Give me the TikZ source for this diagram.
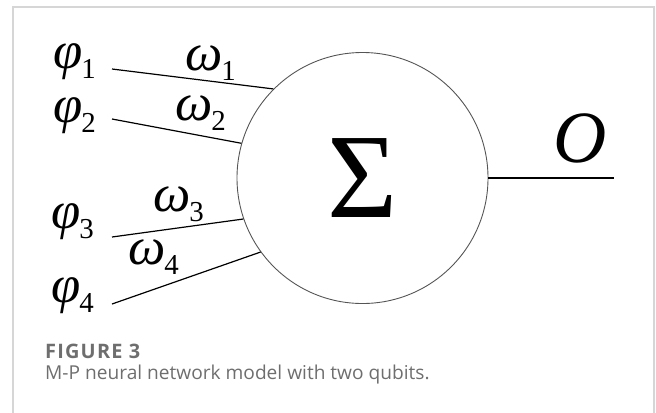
\documentclass[tikz,border=0pt]{standalone}
\usepackage{fontspec}
\setsansfont{Open Sans}
\newfontfamily\timesfont{Liberation Serif}
\usepackage{tikz}
\usetikzlibrary{positioning}

\definecolor{framegray}{HTML}{D6D6D6}
\definecolor{capgray}{HTML}{6E6E6E}
\definecolor{circgray}{HTML}{555555}

% italic Times symbol with an upright Times subscript
\newcommand{\greeksym}[2]{{\itshape #1}\kern-1bp\raisebox{-10bp}{\fontsize{29}{29}\selectfont #2}}

\begin{document}
\begin{tikzpicture}[x=1bp, y=-1bp,
    frame/.style={draw=framegray, line width=1.4bp},
    sumnode/.style={circle, draw=circgray, line width=0.9bp, minimum size=251bp,
                    inner sep=0pt, font=\timesfont\fontsize{121}{121}\selectfont},
    symlabel/.style={inner sep=0pt, anchor=base west, font=\timesfont\fontsize{53}{53}\selectfont},
    edge/.style={draw=black, line width=1.2bp},
    caption/.style={anchor=west, inner sep=0pt, text=capgray}
]
    \useasboundingbox (0,0) rectangle (656,412);

    % ── frame ──
    \draw[frame] (13,413) |- (654,7) -- (654,413);

    % ── summing neuron ──
    \node[sumnode] (sum) at (362.5,178) {Σ};

    % ── inputs ──
    \coordinate (in1) at (112,69);
    \coordinate (in2) at (112,119);
    \coordinate (in3) at (112,237);
    \coordinate (in4) at (112,304);

    \node[symlabel] (phi1) at (53,68)  {\greeksym{φ}{1}};
    \node[symlabel] (phi2) at (53,122) {\greeksym{φ}{2}};
    \node[symlabel] (phi3) at (51,228) {\greeksym{φ}{3}};
    \node[symlabel] (phi4) at (51,302) {\greeksym{φ}{4}};

    \node[symlabel] (w1) at (185,70)  {\greeksym{ω}{1}};
    \node[symlabel] (w2) at (175,120) {\greeksym{ω}{2}};
    \node[symlabel] (w3) at (153,211) {\greeksym{ω}{3}};
    \node[symlabel] (w4) at (128,264) {\greeksym{ω}{4}};

    \draw[edge] (in1) -- (sum.135);
    \draw[edge] (in2) -- (sum.164);
    \draw[edge] (in3) -- (sum.199);
    \draw[edge] (in4) -- (sum.216);

    % ── output ──
    \coordinate (out) at (614,178);
    \draw[edge] (sum.east) -- (out);
    \node[inner sep=0pt, font=\timesfont\itshape\fontsize{74}{74}\selectfont] (outlbl) at (580,138) {O};

    % ── caption ──
    \node[caption, font=\sffamily\bfseries\fontsize{20}{20}\selectfont\addfontfeature{LetterSpace=6}] (fig) at (45,351) {FIGURE 3};
    \node[caption, font=\sffamily\fontsize{19.2}{19.2}\selectfont] (captext) at (45,375) {M-P neural network model with two qubits.};

\end{tikzpicture}
\end{document}
